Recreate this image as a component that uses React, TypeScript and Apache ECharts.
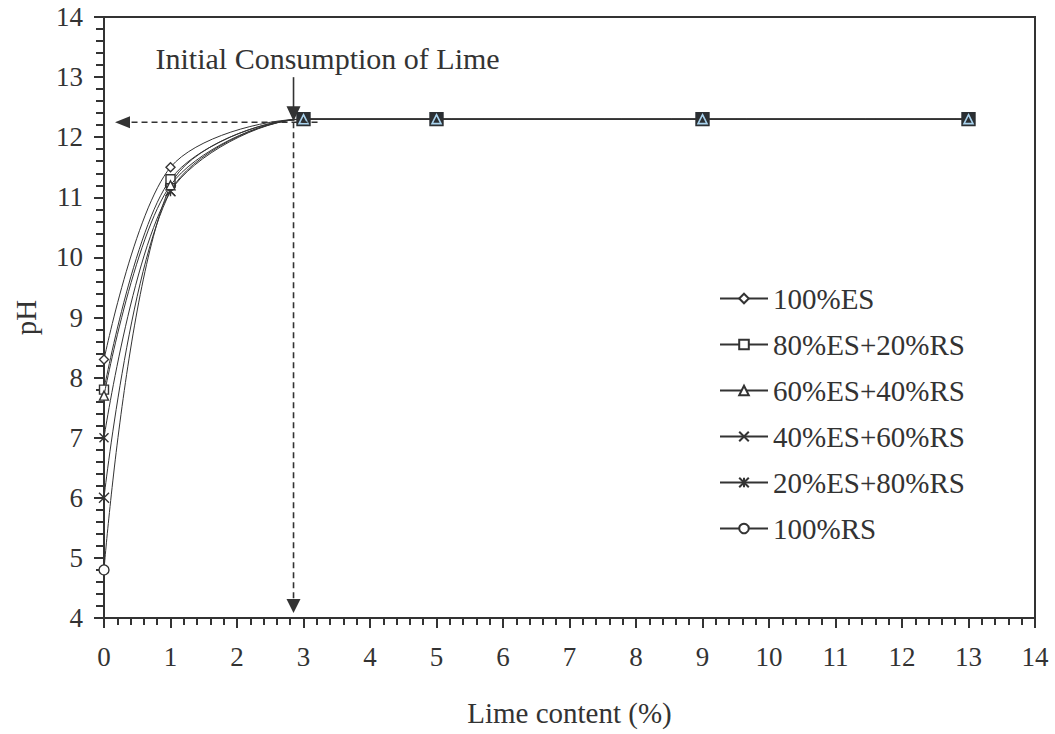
import React, { useEffect, useRef } from "react";
import * as echarts from "echarts";

const limeContent = [0, 1, 3, 5, 9, 13];
const seriesNames = [
  "100%ES",
  "80%ES+20%RS",
  "60%ES+40%RS",
  "40%ES+60%RS",
  "20%ES+80%RS",
  "100%RS",
];
const ph100ES = [8.3, 11.5, 12.3, 12.3, 12.3, 12.3];
const ph80ES20RS = [7.8, 11.3, 12.3, 12.3, 12.3, 12.3];
const ph60ES40RS = [7.7, 11.2, 12.3, 12.3, 12.3, 12.3];
const ph40ES60RS = [7.0, 11.1, 12.3, 12.3, 12.3, 12.3];
const ph20ES80RS = [6.0, 11.1, 12.3, 12.3, 12.3, 12.3];
const ph100RS = [4.8, 11.2, 12.3, 12.3, 12.3, 12.3];
const seriesValues = [ph100ES, ph80ES20RS, ph60ES40RS, ph40ES60RS, ph20ES80RS, ph100RS];

const xTicks = { min: 0, max: 14, interval: 1 };
const yTicks = { min: 4, max: 14, interval: 1 };

const annotationText = "Initial Consumption of Lime";
const annotationLime = 2.85;
const annotationPH = 12.25;

const FONT = "'Liberation Serif', 'Times New Roman', serif";
const INK = "#333333";

const symbols = [
  "diamond",
  "rect",
  "triangle",
  "path://M0,0L10,10M10,0L0,10",
  "path://M0,0L10,10M10,0L0,10M5,0L5,10",
  "circle",
];
const symbolSizes = [9, 9, 9, 9, 10, 10];
// z order: triangles on top, then squares
const zOrder = [3, 6, 7, 4, 5, 2];

export default function App() {
  const ref = useRef<HTMLDivElement>(null);

  useEffect(() => {
    document.body.style.margin = "0";
    const chart = echarts.init(ref.current!, null, { renderer: "svg" });

    const series = seriesNames.map((name, i) => ({
      name,
      type: "line",
      smooth: 0.3,
      data: limeContent.map((x, j) => {
        const item: any = { value: [x, seriesValues[i][j]] };
        if (x >= 3 && i === 1) {
          item.symbolSize = 13;
          item.itemStyle = { color: "#2b2f33", borderColor: "#2b2f33" };
        }
        if (x >= 3 && i === 2) {
          item.symbolSize = 9;
          item.itemStyle = { color: "#2b2f33", borderColor: "#a9d3ee", borderWidth: 1.6 };
        }
        return item;
      }),
      symbol: symbols[i],
      symbolSize: symbolSizes[i],
      showSymbol: true,
      lineStyle: { color: INK, width: 1 },
      itemStyle: {
        color: i >= 3 && i <= 4 ? "rgba(0,0,0,0)" : "#ffffff",
        borderColor: INK,
        borderWidth: 1.4,
      },
      emphasis: { disabled: true },
      z: zOrder[i],
    }));

    chart.setOption({
      animation: false,
      backgroundColor: "#ffffff",
      textStyle: { fontFamily: FONT },
      grid: {
        left: 104,
        right: 20,
        top: 17,
        bottom: 116,
        show: true,
        borderColor: INK,
        borderWidth: 2,
        containLabel: false,
      },
      legend: {
        orient: "vertical",
        left: 714,
        top: 279,
        itemWidth: 48,
        itemHeight: 12,
        itemGap: 17,
        data: seriesNames,
        textStyle: { fontFamily: FONT, fontSize: 29, color: INK, lineHeight: 26 },
        selectedMode: false,
      },
      xAxis: {
        type: "value",
        min: xTicks.min,
        max: xTicks.max,
        interval: xTicks.interval,
        name: "Lime content (%)",
        nameLocation: "middle",
        nameGap: 80,
        nameTextStyle: { fontFamily: FONT, fontSize: 29, color: INK },
        axisLine: { show: true, onZero: false, lineStyle: { color: INK, width: 2 } },
        axisTick: { show: true, inside: false, length: 10, lineStyle: { color: INK, width: 2 } },
        minorTick: { show: true, splitNumber: 5, length: 7, lineStyle: { color: INK, width: 2 } },
        axisLabel: { fontFamily: FONT, fontSize: 27, color: INK, margin: 25 },
        splitLine: { show: false },
      },
      yAxis: {
        type: "value",
        min: yTicks.min,
        max: yTicks.max,
        interval: yTicks.interval,
        name: "pH",
        nameLocation: "middle",
        nameGap: 64,
        nameTextStyle: { fontFamily: FONT, fontSize: 29, color: INK },
        axisLine: { show: true, onZero: false, lineStyle: { color: INK, width: 2 } },
        axisTick: { show: true, inside: false, length: 10, lineStyle: { color: INK, width: 2 } },
        minorTick: { show: true, splitNumber: 5, length: 8, lineStyle: { color: INK, width: 2 } },
        axisLabel: { fontFamily: FONT, fontSize: 27, color: INK, margin: 21 },
        splitLine: { show: false },
      },
      series,
    });

    const p = chart.convertToPixel({ gridIndex: 0 }, [annotationLime, annotationPH]) as number[];
    const o = chart.convertToPixel({ gridIndex: 0 }, [xTicks.min, yTicks.min]) as number[];
    const px = p[0];
    const py = p[1];
    const dash = { stroke: INK, lineWidth: 1.6, lineDash: [6, 4] };
    chart.setOption({
      graphic: [
        {
          type: "text",
          left: px - 138,
          top: py - 79,
          style: { text: annotationText, font: `30px ${FONT}`, fill: INK },
          z: 100,
        },
        { type: "line", shape: { x1: px, y1: py - 45, x2: px, y2: py - 14 }, style: { stroke: INK, lineWidth: 1.6 }, z: 100 },
        { type: "polygon", shape: { points: [[px, py - 1], [px - 7, py - 16], [px + 7, py - 16]] }, style: { fill: INK }, z: 100 },
        { type: "line", shape: { x1: px + 24, y1: py, x2: o[0] + 26, y2: py }, style: dash, z: 100 },
        { type: "polygon", shape: { points: [[o[0] + 11, py], [o[0] + 26, py - 6], [o[0] + 26, py + 6]] }, style: { fill: INK }, z: 100 },
        { type: "line", shape: { x1: px, y1: py, x2: px, y2: o[1] - 18 }, style: dash, z: 100 },
        { type: "polygon", shape: { points: [[px, o[1] - 5], [px - 7, o[1] - 19], [px + 7, o[1] - 19]] }, style: { fill: INK }, z: 100 },
      ],
    });

    return () => chart.dispose();
  }, []);

  return (
    <div
      ref={ref}
      style={{ position: "absolute", left: 0, top: 0, width: 1055, height: 734 }}
    />
  );
}
